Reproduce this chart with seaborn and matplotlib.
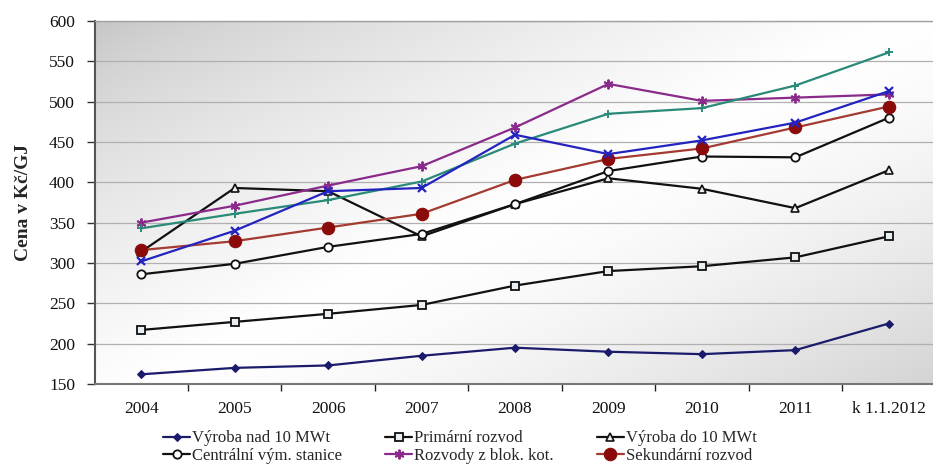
import numpy as np
import pandas as pd
import matplotlib
matplotlib.use("Agg")
import matplotlib.pyplot as plt
import seaborn as sns

# Heat price per category (Kč/GJ)
years = ["2004", "2005", "2006", "2007", "2008", "2009", "2010", "2011", "k 1.1.2012"]

vyroba_nad_10 = [162, 170, 173, 185, 195, 190, 187, 192, 225]
primarni_rozvod = [217, 227, 237, 248, 272, 290, 296, 307, 333]
vyroba_do_10 = [314, 393, 389, 333, 373, 405, 392, 368, 415]
centralni_vym = [286, 299, 320, 336, 373, 414, 432, 431, 480]
rozvody_blok = [350, 371, 396, 420, 468, 522, 501, 505, 509]
sekundarni_rozvod = [316, 327, 344, 361, 403, 429, 442, 468, 494]
rada_plus = [343, 361, 378, 401, 448, 485, 492, 520, 561]
rada_x = [302, 340, 389, 393, 459, 435, 452, 474, 513]

legend_names = [
    "Výroba nad 10 MWt", "Primární rozvod", "Výroba do 10 MWt",
    "Centrální vým. stanice", "Rozvody z blok. kot.", "Sekundární rozvod",
]

sns.set_theme(style="white")
plt.rcParams["font.family"] = ["Liberation Serif", "DejaVu Serif"]

fig = plt.figure(figsize=(9.33, 4.76), dpi=100)
# axes extend slightly past the right edge of the figure
ax = fig.add_axes([94.5 / 933, 1 - 384 / 476, (935.5 - 94.5) / 933, (384 - 21) / 476])

# diagonal grey-white-grey gradient behind the plot
nx, ny = 400, 200
u = np.linspace(0, 1, nx)[None, :]
v = np.linspace(0, 1, ny)[:, None]  # 0 at top
t = (u * 1.0 + v * 0.9) / 1.9
grey = np.where(t < 0.5,
                0.77 + (1.0 - 0.77) * (t / 0.5) ** 0.7,
                1.0 - (1.0 - 0.83) * ((t - 0.5) / 0.5) ** 1.5)
img = np.dstack([grey, grey, grey])
ax.imshow(img, extent=[0, 1, 0, 1], transform=ax.transAxes, aspect="auto",
          origin="upper", zorder=0)

x = np.arange(len(years))

series = [
    (vyroba_nad_10, dict(color="#1b1b6b", marker="D", markersize=4.5,
                         markerfacecolor="#1b1b6b", markeredgecolor="#1b1b6b"), legend_names[0]),
    (primarni_rozvod, dict(color="#111111", marker="s", markersize=6,
                           markerfacecolor="#e8eef2", markeredgecolor="#111111",
                           markeredgewidth=1.3), legend_names[1]),
    (vyroba_do_10, dict(color="#111111", marker="^", markersize=6,
                        markerfacecolor="#f2f2f2", markeredgecolor="#111111",
                        markeredgewidth=1.2), legend_names[2]),
    (centralni_vym, dict(color="#111111", marker="o", markersize=6,
                         markerfacecolor="white", markeredgecolor="#111111",
                         markeredgewidth=1.3), legend_names[3]),
    (rozvody_blok, dict(color="#8a2a8a", marker=(6, 2, 0), markersize=7,
                        markeredgecolor="#8a2a8a", markeredgewidth=1.4), legend_names[4]),
    (sekundarni_rozvod, dict(color="#a33b32", marker="o", markersize=9,
                             markerfacecolor="#8b0a0a", markeredgecolor="#8b0a0a"), legend_names[5]),
    (rada_plus, dict(color="#2a8a78", marker="+", markersize=6,
                     markeredgecolor="#2a8a78", markeredgewidth=1.4), None),
    (rada_x, dict(color="#2323c0", marker="x", markersize=6,
                  markeredgecolor="#2323c0", markeredgewidth=1.6), None),
]

handles = []
for vals, style, name in series:
    df = pd.DataFrame({"x": x, "y": vals})
    before = len(ax.lines)
    sns.lineplot(data=df, x="x", y="y", ax=ax, linewidth=1.6, zorder=3,
                 legend=False, **style)
    if name is not None:
        line = ax.lines[before]
        line.set_label(name)
        handles.append(line)

ax.set_xlim(-0.5, len(years) - 0.5)
ax.set_ylim(150, 600)
ax.set_yticks(np.arange(150, 601, 50))
ax.set_xticks(x)
ax.set_xticklabels(years)
ax.set_xticks(np.arange(0.5, len(years) - 0.5, 1), minor=True)
ax.tick_params(axis="x", which="major", length=0, pad=12, labelsize=12.5, labelcolor="#111111")
ax.tick_params(axis="x", which="minor", length=5, width=1, color="#222222", direction="out", bottom=True)
ax.tick_params(axis="y", length=6, width=1, color="#333333", direction="out", left=True,
               labelsize=12.5, labelcolor="#111111", pad=8)
ax.set_xlabel("")
ax.set_ylabel("Cena v Kč/GJ", fontsize=14, fontweight="bold", labelpad=12)

ax.grid(axis="y", color="#b0b0b0", linewidth=0.9, zorder=1)
ax.grid(axis="x", visible=False)
ax.set_axisbelow(True)
ax.spines["top"].set_visible(True)
ax.spines["top"].set_color("#a0a0a0")
ax.spines["top"].set_linewidth(1.0)
ax.spines["right"].set_visible(False)
ax.spines["left"].set_color("#555555")
ax.spines["left"].set_linewidth(1.5)
ax.spines["bottom"].set_color("#777777")
ax.spines["bottom"].set_linewidth(1.5)

# reorder so the three-column legend reads across rows
order = [0, 3, 1, 4, 2, 5]
fig.legend([handles[i] for i in order], [legend_names[i] for i in order],
           loc="center", bbox_to_anchor=(460 / 933, 1 - 447 / 476), ncol=3,
           frameon=False, fontsize=12, handlelength=1.6, handletextpad=0.12,
           columnspacing=2.6, labelspacing=0.08, borderpad=0)

fig.savefig("out.png", dpi=100, facecolor="white")
